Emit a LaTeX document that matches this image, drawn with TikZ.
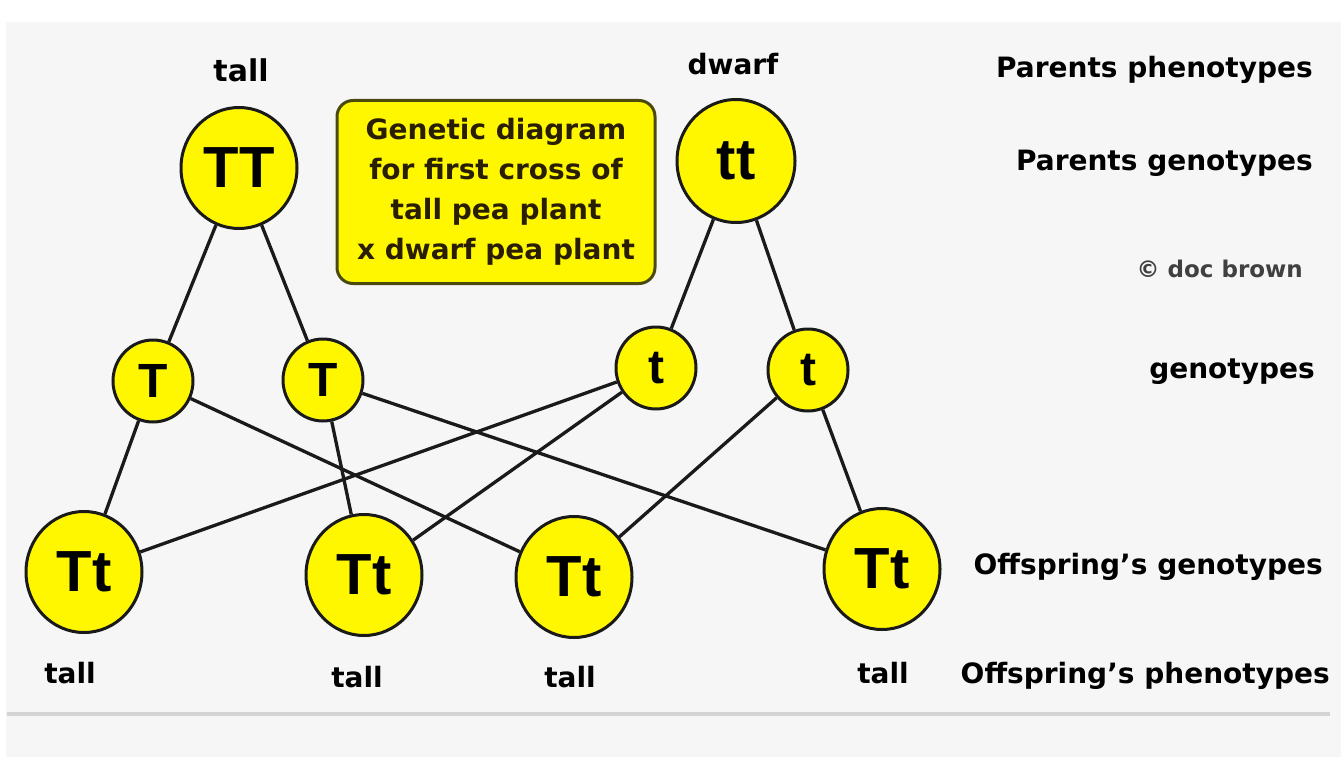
\documentclass[tikz,border=0pt]{standalone}
\usepackage{fontspec}
\setmainfont{DejaVu Sans}
\newfontfamily\circfont{Liberation Sans}
\usetikzlibrary{shapes.geometric}
\definecolor{yel}{HTML}{FFF700}
\definecolor{panel}{HTML}{F6F6F6}
\definecolor{edge}{HTML}{1A1A1A}
\definecolor{boxedge}{HTML}{4A4A10}
\definecolor{boxtext}{HTML}{2A1E00}
\definecolor{sep}{HTML}{D4D4D4}
\begin{document}
\begin{tikzpicture}[x=1pt,y=-1pt,
  bigc/.style={ellipse, draw=edge, line width=3pt, fill=yel, inner sep=0pt,
    minimum width=116pt, minimum height=121pt,
    font=\circfont\bfseries\fontsize{58}{58}\selectfont},
  smallc/.style={ellipse, draw=edge, line width=3pt, fill=yel, inner sep=0pt,
    minimum width=80pt, minimum height=82pt,
    font=\circfont\bfseries\fontsize{48}{48}\selectfont},
  rlbl/.style={anchor=base east, inner sep=0pt, font=\bfseries\fontsize{28}{30}\selectfont},
  phen/.style={anchor=base, inner sep=0pt, font=\bfseries\fontsize{28}{30}\selectfont},
  link/.style={draw=edge, line width=3.3pt}]
\useasboundingbox (0,0) rectangle (1341,757);
\fill[white] (0,0) rectangle (1341,757);
\fill[panel] (6,22) rectangle (1341,757);
\draw[sep, line width=4pt] (7,714) -- (1330,714);

% parents
\node[bigc] (TT) at (239,168) {TT};
\node[bigc, minimum width=118pt, minimum height=123pt] (tt) at (736,161) {tt};
% gametes
\node[smallc] (T1) at (153,381) {T};
\node[smallc] (T2) at (323,380) {T};
\node[smallc] (t1) at (656,368) {t};
\node[smallc] (t2) at (808,370) {t};
% offspring
\node[bigc] (O1) at (84,572) {Tt};
\node[bigc] (O2) at (364,575) {Tt};
\node[bigc] (O3) at (574,577) {Tt};
\node[bigc] (O4) at (882,569) {Tt};

% connectors
\draw[link] (TT) -- (T1);
\draw[link] (TT) -- (T2);
\draw[link] (tt) -- (t1);
\draw[link] (tt) -- (t2);
\draw[link] (T1) -- (O1);
\draw[link] (T1) -- (O3);
\draw[link] (T2) -- (O2);
\draw[link] (T2) -- (O4);
\draw[link] (t1) -- (O1);
\draw[link] (t1) -- (O2);
\draw[link] (t2) -- (O3);
\draw[link] (t2) -- (O4);

% info box
\node[draw=boxedge, line width=3pt, fill=yel, rounded corners=16pt,
  minimum width=318pt, minimum height=183pt, inner sep=0pt, align=center,
  text=boxtext, font=\bfseries\fontsize{28}{40}\selectfont] (box) at (496,192)
  {Genetic diagram\\for first cross of\\tall pea plant\\x dwarf pea plant};

% phenotype labels
\node[phen, font=\bfseries\fontsize{30}{30}\selectfont] (ptall) at (241,82) {tall};
\node[phen] (pdwarf) at (733,75) {dwarf};
\node[phen] (o1tall) at (70,683) {tall};
\node[phen] (o2tall) at (357,687) {tall};
\node[phen] (o3tall) at (570,687) {tall};
\node[phen] (o4tall) at (883,683) {tall};

% right column
\node[rlbl] (l1) at (1313,78) {Parents phenotypes};
\node[rlbl] (l2) at (1313,170) {Parents genotypes};
\node[rlbl, text=black!75, font=\bfseries\fontsize{23}{25}\selectfont] (l3) at (1303,277) {© doc brown};
\node[rlbl] (l4) at (1315,378) {genotypes};
\node[rlbl] (l5) at (1323,574) {Offspring's genotypes};
\node[rlbl] (l6) at (1330,683) {Offspring's phenotypes};
\end{tikzpicture}
\end{document}
